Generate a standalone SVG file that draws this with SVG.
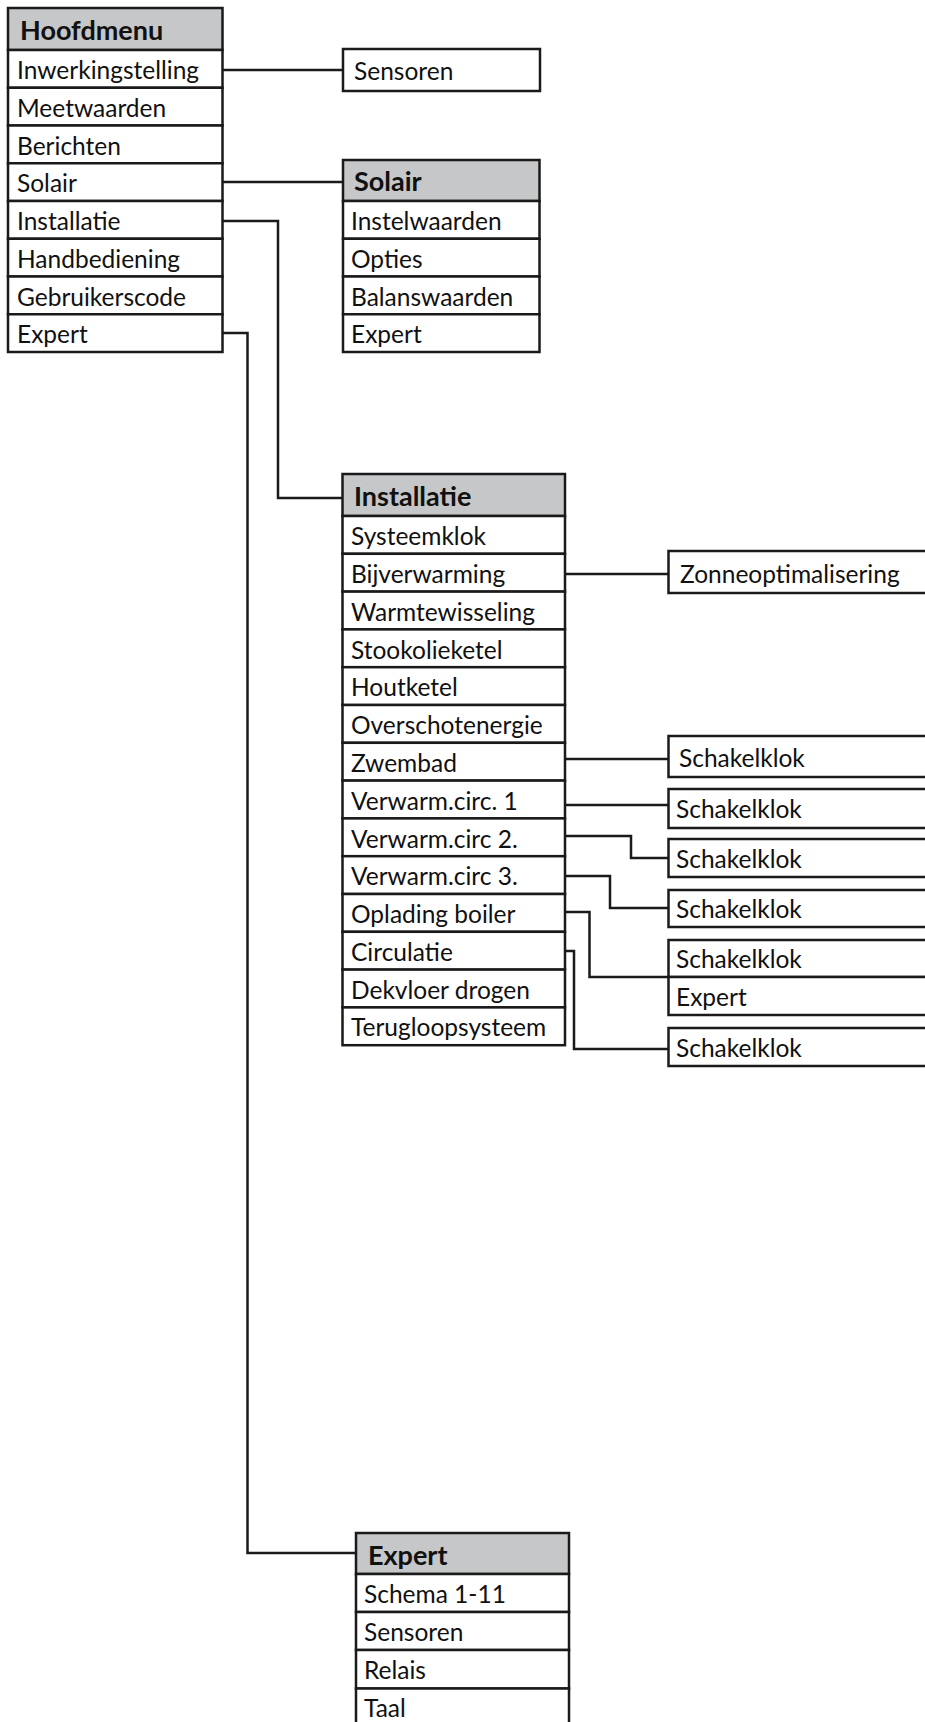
<svg xmlns="http://www.w3.org/2000/svg" width="925" height="1722" viewBox="0 0 925 1722">
<style>
.box{fill:#fff;stroke:#1a1a1a;stroke-width:2.5}
.hdr{fill:#c6c7c8;stroke:#1a1a1a;stroke-width:2.5}
.t{font-family:Lato,"Open Sans",sans-serif;font-size:24.5px;fill:#111}
.h{font-family:Lato,"Open Sans",sans-serif;font-size:27px;font-weight:bold;fill:#111}
.c{fill:none;stroke:#1a1a1a;stroke-width:2.5}
</style>
<rect width="925" height="1722" fill="#fff"/>
<g id="connectors">
<path class="c" d="M222.5,70 H343"/>
<path class="c" d="M222.5,182 H343"/>
<path class="c" d="M222.5,221 H278 V498 H342.5"/>
<path class="c" d="M222.5,333 H247.5 V1553 H356"/>
<path class="c" d="M565,574 H668.5"/>
<path class="c" d="M565,759 H668.5"/>
<path class="c" d="M565,805 H668.5"/>
<path class="c" d="M565,836 H631 V858 H668.5"/>
<path class="c" d="M565,876 H610 V908 H668.5"/>
<path class="c" d="M565,912 H589.5 V977 H668.5"/>
<path class="c" d="M565,951 H574 V1049 H668.5"/>
</g>
<g id="hoofdmenu">
<rect class="hdr" x="8" y="8" width="214.5" height="42"/>
<text class="h" x="20" y="40">Hoofdmenu</text>
<rect class="box" x="8" y="50" width="214.5" height="37.75"/>
<rect class="box" x="8" y="87.75" width="214.5" height="37.75"/>
<rect class="box" x="8" y="125.5" width="214.5" height="37.75"/>
<rect class="box" x="8" y="163.25" width="214.5" height="37.75"/>
<rect class="box" x="8" y="201" width="214.5" height="37.75"/>
<rect class="box" x="8" y="238.75" width="214.5" height="37.75"/>
<rect class="box" x="8" y="276.5" width="214.5" height="37.75"/>
<rect class="box" x="8" y="314.25" width="214.5" height="37.75"/>
<text class="t" x="17" y="79">Inwerkingstelling</text>
<text class="t" x="17" y="117">Meetwaarden</text>
<text class="t" x="17" y="154.5">Berichten</text>
<text class="t" x="17" y="192">Solair</text>
<text class="t" x="17" y="230">Installatie</text>
<text class="t" x="17" y="268">Handbediening</text>
<text class="t" x="17" y="305.5">Gebruikerscode</text>
<text class="t" x="17" y="343">Expert</text>
</g>
<g id="sensoren">
<rect class="box" x="343" y="49" width="197" height="42"/>
<text class="t" x="354" y="80">Sensoren</text>
</g>
<g id="solair">
<rect class="hdr" x="343" y="160" width="196.5" height="41"/>
<text class="h" x="354" y="191">Solair</text>
<rect class="box" x="343" y="201" width="196.5" height="37.75"/>
<rect class="box" x="343" y="238.75" width="196.5" height="37.75"/>
<rect class="box" x="343" y="276.5" width="196.5" height="37.75"/>
<rect class="box" x="343" y="314.25" width="196.5" height="37.75"/>
<text class="t" x="351" y="230">Instelwaarden</text>
<text class="t" x="351" y="268">Opties</text>
<text class="t" x="351" y="305.5">Balanswaarden</text>
<text class="t" x="351" y="343">Expert</text>
</g>
<g id="installatie">
<rect class="hdr" x="342.5" y="474" width="222.5" height="42"/>
<text class="h" x="354" y="506">Installatie</text>
<rect class="box" x="342.5" y="516" width="222.5" height="37.8"/>
<rect class="box" x="342.5" y="553.8" width="222.5" height="37.8"/>
<rect class="box" x="342.5" y="591.6" width="222.5" height="37.8"/>
<rect class="box" x="342.5" y="629.4" width="222.5" height="37.8"/>
<rect class="box" x="342.5" y="667.2" width="222.5" height="37.8"/>
<rect class="box" x="342.5" y="705" width="222.5" height="37.8"/>
<rect class="box" x="342.5" y="742.8" width="222.5" height="37.8"/>
<rect class="box" x="342.5" y="780.6" width="222.5" height="37.8"/>
<rect class="box" x="342.5" y="818.4" width="222.5" height="37.8"/>
<rect class="box" x="342.5" y="856.2" width="222.5" height="37.8"/>
<rect class="box" x="342.5" y="894" width="222.5" height="37.8"/>
<rect class="box" x="342.5" y="931.8" width="222.5" height="37.8"/>
<rect class="box" x="342.5" y="969.6" width="222.5" height="37.8"/>
<rect class="box" x="342.5" y="1007.4" width="222.5" height="37.8"/>
<text class="t" x="351" y="545">Systeemklok</text>
<text class="t" x="351" y="583">Bijverwarming</text>
<text class="t" x="351" y="621">Warmtewisseling</text>
<text class="t" x="351" y="658.5">Stookolieketel</text>
<text class="t" x="351" y="696">Houtketel</text>
<text class="t" x="351" y="734">Overschotenergie</text>
<text class="t" x="351" y="772">Zwembad</text>
<text class="t" x="351" y="809.5">Verwarm.circ. 1</text>
<text class="t" x="351" y="847.5">Verwarm.circ 2.</text>
<text class="t" x="351" y="885">Verwarm.circ 3.</text>
<text class="t" x="351" y="923">Oplading boiler</text>
<text class="t" x="351" y="961">Circulatie</text>
<text class="t" x="351" y="998.5">Dekvloer drogen</text>
<text class="t" x="351" y="1036">Terugloopsysteem</text>
</g>
<g id="zonneoptimalisering">
<rect class="box" x="668.5" y="551" width="280" height="42"/>
<text class="t" x="680" y="583">Zonneoptimalisering</text>
</g>
<g id="schakelklok-zwembad">
<rect class="box" x="668.5" y="736" width="280" height="41"/>
<text class="t" x="679" y="767">Schakelklok</text>
</g>
<g id="schakelklok-vc1">
<rect class="box" x="668.5" y="789" width="280" height="39"/>
<text class="t" x="676" y="818">Schakelklok</text>
</g>
<g id="schakelklok-vc2">
<rect class="box" x="668.5" y="839" width="280" height="38"/>
<text class="t" x="676" y="868">Schakelklok</text>
</g>
<g id="schakelklok-vc3">
<rect class="box" x="668.5" y="890" width="280" height="37"/>
<text class="t" x="676" y="918">Schakelklok</text>
</g>
<g id="boiler-menu">
<rect class="box" x="668.5" y="940" width="280" height="37"/>
<rect class="box" x="668.5" y="977" width="280" height="38"/>
<text class="t" x="676" y="968">Schakelklok</text>
<text class="t" x="676" y="1006">Expert</text>
</g>
<g id="schakelklok-circulatie">
<rect class="box" x="668.5" y="1028" width="280" height="38"/>
<text class="t" x="676" y="1057">Schakelklok</text>
</g>
<g id="expert">
<rect class="hdr" x="356" y="1533" width="213" height="41"/>
<text class="h" x="368" y="1565">Expert</text>
<rect class="box" x="356" y="1574" width="213" height="38"/>
<rect class="box" x="356" y="1612" width="213" height="38"/>
<rect class="box" x="356" y="1650" width="213" height="38.5"/>
<rect class="box" x="356" y="1688.5" width="213" height="40"/>
<text class="t" x="364" y="1603">Schema 1-11</text>
<text class="t" x="364" y="1641">Sensoren</text>
<text class="t" x="364" y="1679">Relais</text>
<text class="t" x="364" y="1717">Taal</text>
</g>
</svg>
